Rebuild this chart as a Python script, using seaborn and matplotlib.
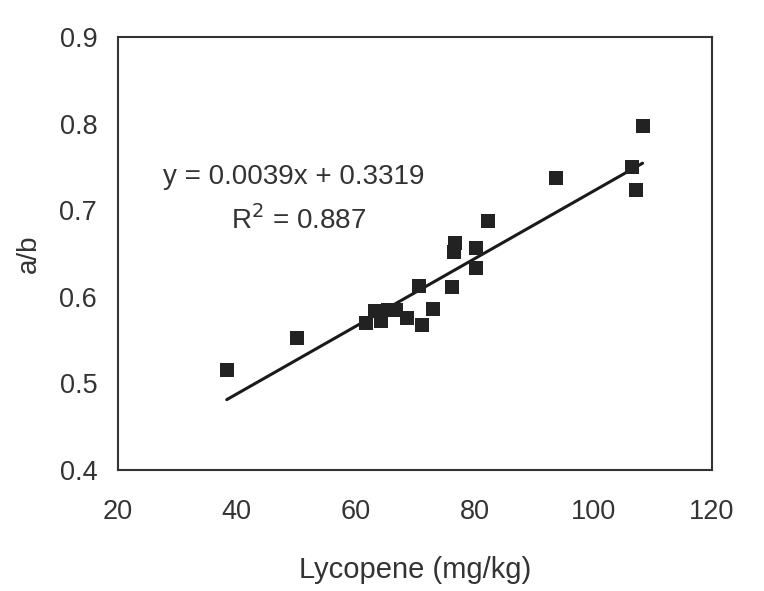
import numpy as np
import pandas as pd
import matplotlib
matplotlib.use("Agg")
import matplotlib.pyplot as plt
import seaborn as sns

# Data
lycopene = [38.3, 50.2, 61.8, 63.3, 64.3, 65.5, 66.8, 68.6, 71.2, 73.1, 70.6,
            76.3, 76.6, 76.7, 80.2, 80.3, 82.3, 93.7, 106.6, 107.2, 108.3]
ab_ratio = [0.516, 0.553, 0.570, 0.584, 0.572, 0.585, 0.585, 0.575, 0.567, 0.586, 0.612,
            0.611, 0.652, 0.662, 0.633, 0.656, 0.687, 0.737, 0.750, 0.723, 0.797]
slope = 0.0039
intercept = 0.3319
r_squared = 0.887
x_ticks = [20, 40, 60, 80, 100, 120]
y_ticks = [0.4, 0.5, 0.6, 0.7, 0.8, 0.9]

sns.set_style("white")
plt.rcParams['font.family'] = ['Liberation Sans', 'DejaVu Sans']

fig = plt.figure(figsize=(7.64, 5.91), dpi=100)
ax = fig.add_axes([0.1545, 0.2047, 0.932 - 0.1545, 0.9374 - 0.2047])

df = pd.DataFrame({"x": lycopene, "y": ab_ratio})
sns.scatterplot(data=df, x="x", y="y", marker="s", s=115, color="#222222",
                edgecolor="#222222", linewidth=0, ax=ax, zorder=3)

xl = np.array([min(lycopene), max(lycopene)])
line_df = pd.DataFrame({"x": xl, "y": slope * xl + intercept})
sns.lineplot(data=line_df, x="x", y="y", color="#1a1a1a", linewidth=2.2, ax=ax, zorder=2)

ax.set_xlim(20, 120)
ax.set_ylim(0.4, 0.9)
ax.set_xticks(x_ticks)
ax.set_yticks(y_ticks)
ax.set_xticklabels([str(t) for t in x_ticks])
ax.set_yticklabels([f"{t:.1f}" for t in y_ticks])
ax.tick_params(direction="in", length=5, width=1, colors="#333333",
               labelsize=19.5, labelcolor="#333333")
ax.tick_params(axis="x", pad=21)
ax.tick_params(axis="y", pad=15)
for s in ax.spines.values():
    s.set_visible(True)
    s.set_color("#333333")
    s.set_linewidth(1.5)

ax.set_xlabel("Lycopene (mg/kg)", fontsize=21, color="#333333", labelpad=22)
ax.set_ylabel("a/b", fontsize=20, color="#333333", labelpad=13)

ax.text(49.5, 0.738, f"y = {slope}x + {intercept}", fontsize=20, color="#333333",
        ha="center", va="center")
ax.text(50.4, 0.689, f"R$^2$ = {r_squared}", fontsize=20, color="#333333",
        ha="center", va="center")

fig.savefig("out.png", dpi=100)
